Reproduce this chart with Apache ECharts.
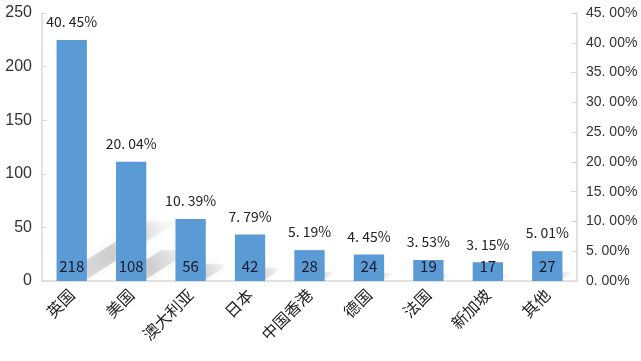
<!DOCTYPE html>
<html><head><meta charset="utf-8">
<script src="https://cdn.jsdelivr.net/npm/echarts@6/dist/echarts.min.js"></script>
<style>html,body{margin:0;padding:0;background:#fff}#c{width:641px;height:361px}</style>
</head><body><div id="c"></div>
<script>
var categories = ['英国','美国','澳大利亚','日本','中国香港','德国','法国','新加坡','其他'];
var counts = [218,108,56,42,28,24,19,17,27];
var percents = [40.45,20.04,10.39,7.79,5.19,4.45,3.53,3.15,5.01];
var leftTicks = [0,50,100,150,200,250];
var rightTicks = [0,5,10,15,20,25,30,35,40,45];

function pctText(v){ return v.toFixed(2).replace('.', '. ') + '%'; }

var chart = echarts.init(document.getElementById('c'));
chart.setOption({
  animation:false,
  grid:{left:42,right:64,top:13,bottom:80},
  xAxis:{type:'category',data:categories,
    axisLine:{lineStyle:{color:'#d9d9d9',width:1.5}},
    axisTick:{show:false},
    axisLabel:{rotate:45,color:'#222',fontSize:16,fontFamily:'Noto Sans CJK SC',margin:11,interval:0}
  },
  yAxis:[
    {type:'value',min:0,max:250,interval:50,position:'left',
      axisLine:{show:true,lineStyle:{color:'#d9d9d9',width:1.5}},
      axisTick:{show:true,inside:true,length:5,lineStyle:{color:'#d9d9d9'}},
      splitLine:{show:false},
      axisLabel:{color:'#333',fontSize:16,fontFamily:'Liberation Sans',margin:10}
    },
    {type:'value',min:0,max:45,interval:5,position:'right',
      axisLine:{show:true,lineStyle:{color:'#d9d9d9',width:1.5}},
      axisTick:{show:true,inside:true,length:6,lineStyle:{color:'#d9d9d9'}},
      splitLine:{show:false},
      axisLabel:{color:'#333',fontSize:14,fontFamily:'Liberation Sans',margin:9,
        formatter:function(v){return pctText(v);}}
    }
  ],
  series:[
    {type:'custom',yAxisIndex:1,z:1,silent:true,
      data:percents.map(function(v,i){return [i,v];}),
      renderItem:function(params,api){
        var i=api.value(0), v=api.value(1);
        var base=api.coord([i,0]), top=api.coord([i,v]);
        var hw=api.size([1,0])[0]*0.255;
        var h=base[1]-top[1];
        var dx=0.38*h, dy=0.24*h;
        var bx=base[0], by=base[1]-2;
        return {type:'polygon',
          shape:{points:[[bx-hw,by],[bx+hw,by],[bx+hw+dx,by-dy],[bx-hw+dx,by-dy]]},
          style:{fill:new echarts.graphic.LinearGradient(0,1,1,0,[
            {offset:0,color:'rgba(190,190,190,0.35)'},
            {offset:0.45,color:'rgba(170,170,170,0.5)'},
            {offset:0.78,color:'rgba(190,190,190,0.3)'},
            {offset:1,color:'rgba(220,220,220,0)'}]),
            shadowBlur:10,shadowColor:'rgba(190,190,190,0.5)'}
        };
      }
    },
    {type:'bar',yAxisIndex:1,data:percents,barWidth:'51%',z:3,
      itemStyle:{color:'#5b9bd5'},
      label:{show:true,position:'insideBottom',distance:7,color:'#1a1a2a',fontSize:15,fontFamily:'Noto Sans CJK SC',
        formatter:function(p){return String(counts[p.dataIndex]);}}
    },
    {type:'bar',yAxisIndex:1,data:percents,barWidth:'51%',barGap:'-100%',z:3,
      itemStyle:{color:'rgba(0,0,0,0)'},
      label:{show:true,position:'top',distance:11,color:'#222',fontSize:14,fontFamily:'Noto Sans CJK SC',
        formatter:function(p){return pctText(p.value);}}
    }
  ]
});
</script></body></html>
